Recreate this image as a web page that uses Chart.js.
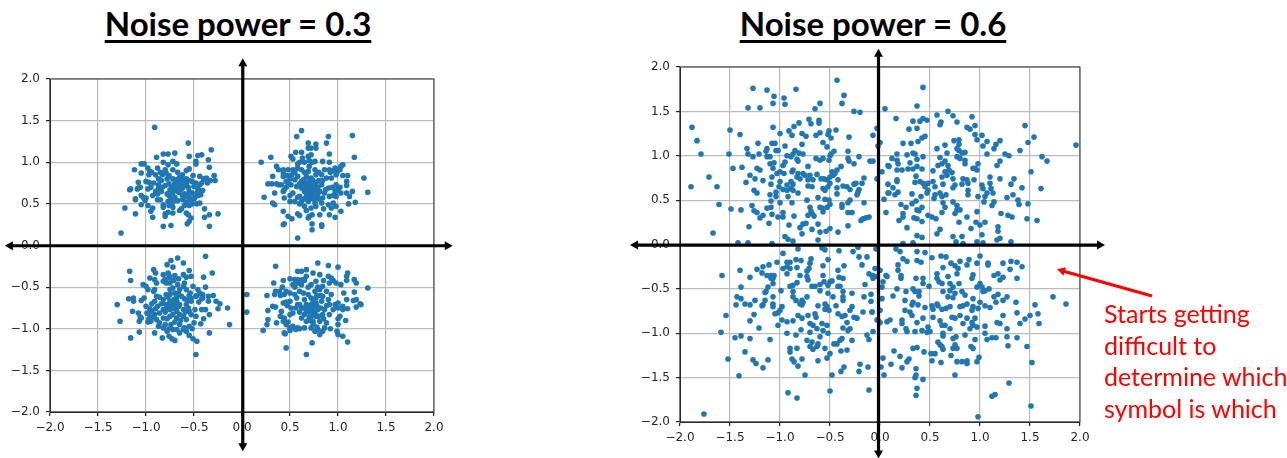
<!DOCTYPE html>
<html lang="en">
<head>
<meta charset="UTF-8">
<title>Noise power scatter</title>
<script src="https://cdn.jsdelivr.net/npm/chart.js"></script>
<style>
  html, body { margin: 0; padding: 0; background: #fff; overflow: hidden; }
  body { width: 1287px; height: 458px; position: relative; }
  canvas { position: absolute; top: 0; }
  .title { position: absolute; top: 1px; font: bold 33px Lato, sans-serif; color: #000; text-decoration: underline; text-decoration-thickness: 3px; text-underline-offset: 4px; text-decoration-skip-ink: none; white-space: nowrap; line-height: 44px; transform: translateX(-50%); }
  .note { position: absolute; left: 1104px; top: 298px; font: 25px/31.7px Lato, sans-serif; color: #f00; white-space: nowrap; }
</style>
</head>
<body>
<div class="title" id="title1" style="left:238px"></div>
<div class="title" id="title2" style="left:873px"></div>
<canvas id="lowNoise" width="470" height="458" style="left:0"></canvas>
<canvas id="highNoise" width="677" height="458" style="left:610px"></canvas>
<div class="note" id="note"></div>
<script>
const titles = ['Noise power = 0.3', 'Noise power = 0.6'];
const noteLines = ['Starts getting', 'difficult to', 'determine which', 'symbol is which'];
const tickValues = [-2, -1.5, -1, -0.5, 0, 0.5, 1, 1.5, 2];

// noise power 0.3, one list per symbol
const lowTopLeft = [[-0.91,1.42],[-0.56,1.23],[-0.32,1.15],[-0.89,1.06],[-0.82,1.10],[-0.77,1.10],[-0.70,1.11],[-0.55,1.07],[-0.46,1.08],[-0.42,1.09],[-0.35,1.03],[-0.34,0.94],[-0.82,1.00],[-1.05,0.98],[-1.02,0.98],[-0.77,0.97],[-0.72,1.01],[-0.68,0.98],[-0.48,1.01],[-0.48,0.98],[-0.55,0.92],[-1.12,0.91],[-1.05,0.87],[-0.98,0.93],[-0.96,0.89],[-0.97,0.85],[-0.88,0.93],[-0.80,0.91],[-0.90,0.85],[-0.83,0.85],[-0.72,0.91],[-0.67,0.88],[-0.62,0.85],[-0.58,0.90],[-0.51,0.84],[-0.44,0.83],[-0.40,0.80],[-0.37,0.81],[-0.29,0.84],[-0.28,0.78],[-0.33,0.78],[-1.08,0.76],[-1.00,0.77],[-0.97,0.76],[-1.17,0.67],[-1.09,0.68],[-0.98,0.68],[-0.87,0.80],[-0.84,0.78],[-0.87,0.73],[-0.83,0.70],[-0.87,0.68],[-0.84,0.65],[-0.78,0.80],[-0.72,0.80],[-0.68,0.79],[-0.65,0.82],[-0.62,0.79],[-0.60,0.76],[-0.66,0.76],[-0.70,0.74],[-0.64,0.72],[-0.68,0.70],[-0.73,0.70],[-0.75,0.67],[-0.62,0.69],[-0.58,0.74],[-0.55,0.78],[-0.52,0.77],[-0.48,0.75],[-0.44,0.73],[-0.46,0.68],[-0.41,0.66],[-0.43,0.61],[-0.46,0.60],[-0.49,0.58],[-0.52,0.63],[-0.55,0.65],[-0.50,0.56],[-0.44,0.51],[-1.11,0.55],[-1.05,0.60],[-1.03,0.58],[-1.00,0.57],[-1.01,0.54],[-1.05,0.49],[-0.98,0.48],[-0.93,0.60],[-0.88,0.55],[-0.85,0.55],[-0.76,0.60],[-0.74,0.56],[-0.77,0.53],[-0.72,0.52],[-0.70,0.58],[-0.67,0.54],[-0.62,0.55],[-0.60,0.58],[-0.58,0.52],[-0.55,0.48],[-0.52,0.50],[-0.47,0.50],[-0.39,0.44],[-0.39,0.34],[-0.34,0.37],[-0.25,0.38],[-0.34,0.23],[-0.57,0.26],[-0.55,0.29],[-0.53,0.33],[-0.74,0.24],[-0.82,0.23],[-0.80,0.35],[-0.80,0.38],[-0.77,0.40],[-0.72,0.39],[-0.65,0.42],[-0.63,0.44],[-0.58,0.39],[-0.56,0.37],[-0.82,0.49],[-0.82,0.46],[-0.93,0.45],[-0.95,0.41],[-0.93,0.34],[-1.11,0.38],[-1.22,0.45],[-1.26,0.15],[-1.16,0.68],[-1.11,0.56],[-1.08,0.69],[-0.78,0.62],[-0.72,0.63],[-0.66,0.64],[-0.60,0.62],[-0.56,0.70],[-0.80,0.72],[-0.76,0.74],[-0.90,0.65],[-0.88,0.62],[-0.95,0.70],[-0.92,0.75],[-0.69,0.68],[-0.71,0.66],[-0.64,0.67],[-0.60,0.72],[-0.66,0.80],[-0.58,0.80],[-0.76,0.84],[-0.79,0.87],[-0.85,0.88],[-0.94,0.88],[-1.06,0.70],[-0.62,0.60],[-0.58,0.60],[-0.55,0.58],[-0.55,0.55],[-0.76,0.48],[-0.72,0.46],[-0.60,0.48],[-0.47,0.63],[-0.44,0.66],[-0.50,0.71],[-0.42,0.75],[-0.36,0.75]];
const lowTopRight = [[0.62,1.38],[0.57,1.31],[1.15,1.32],[0.90,1.31],[0.88,1.23],[0.69,1.23],[0.77,1.22],[0.77,1.17],[0.69,1.17],[0.72,1.17],[0.56,1.12],[0.62,1.12],[0.91,1.10],[0.72,1.09],[0.69,1.07],[0.51,1.07],[0.53,1.04],[0.30,1.06],[1.17,1.06],[0.20,1.00],[0.63,1.05],[0.65,1.00],[0.76,1.01],[0.84,1.01],[0.91,1.00],[0.36,0.95],[0.38,0.91],[0.43,0.91],[0.43,0.87],[0.43,0.83],[0.48,0.91],[0.53,0.91],[0.52,0.85],[0.58,0.93],[0.62,0.91],[0.70,0.95],[0.76,0.91],[0.69,0.89],[0.86,0.91],[0.91,0.91],[0.97,0.93],[1.02,0.91],[1.05,0.97],[1.03,0.95],[1.10,0.84],[1.05,0.84],[0.32,0.83],[1.27,0.81],[1.31,0.64],[1.18,0.52],[1.11,0.50],[1.15,0.65],[1.09,0.72],[1.03,0.41],[0.97,0.34],[0.91,0.37],[0.81,0.37],[0.23,0.58],[0.34,0.63],[0.27,0.74],[0.31,0.74],[0.32,0.51],[0.34,0.49],[0.43,0.41],[0.43,0.25],[0.44,0.26],[0.48,0.35],[0.52,0.32],[0.58,0.38],[0.60,0.36],[0.58,0.09],[0.73,0.19],[0.73,0.26],[0.83,0.25],[0.83,0.23],[0.70,0.35],[0.69,0.33],[0.73,0.37],[0.58,0.83],[0.62,0.77],[0.67,0.83],[0.72,0.81],[0.77,0.85],[0.83,0.85],[0.88,0.81],[0.93,0.81],[0.98,0.85],[0.46,0.77],[0.41,0.73],[0.51,0.73],[0.57,0.71],[0.62,0.69],[0.67,0.73],[0.72,0.75],[0.77,0.75],[0.83,0.73],[0.90,0.69],[0.98,0.73],[0.65,0.65],[0.70,0.67],[0.76,0.67],[0.81,0.65],[0.86,0.63],[0.97,0.65],[1.03,0.63],[0.43,0.65],[0.53,0.63],[0.60,0.59],[0.67,0.59],[0.72,0.59],[0.77,0.57],[0.84,0.57],[0.91,0.59],[0.98,0.59],[1.09,0.63],[1.12,0.59],[0.44,0.57],[0.50,0.53],[0.55,0.53],[0.62,0.53],[0.69,0.53],[0.76,0.51],[0.83,0.51],[0.90,0.49],[0.95,0.51],[0.65,0.47],[0.72,0.45],[0.77,0.47],[0.93,0.45],[0.98,0.47],[0.64,0.79],[1.09,0.77],[0.44,0.67],[0.68,0.70],[0.70,0.72],[0.74,0.70],[0.66,0.68],[0.72,0.65],[0.74,0.62],[0.70,0.62],[0.68,0.64],[0.76,0.72],[0.79,0.70],[0.64,0.72],[0.60,0.74],[0.66,0.76],[0.70,0.78],[0.74,0.78],[0.80,0.78],[0.84,0.78],[0.79,0.62],[0.74,0.56],[0.70,0.56],[0.65,0.56],[0.80,0.56],[0.87,0.67],[0.94,0.70],[1.00,0.69],[1.02,0.70],[0.55,0.79],[0.50,0.80],[0.47,0.84],[0.55,0.88],[0.65,0.88],[0.80,0.88],[0.92,0.88],[0.95,0.90],[0.99,0.88],[0.73,1.00],[0.70,1.02],[0.60,1.00],[0.58,0.98],[0.48,0.75],[0.36,0.74],[0.38,0.73],[0.46,0.70],[0.50,0.60],[0.58,0.58],[0.60,0.50],[0.67,0.42],[0.85,0.44],[0.95,0.60],[1.00,0.66]];
const lowBottomLeft = [[-0.38,-0.13],[-0.67,-0.15],[-0.74,-0.18],[-0.78,-0.23],[-0.61,-0.21],[-0.72,-0.26],[-0.55,-0.30],[-1.17,-0.31],[-1.16,-0.42],[-0.92,-0.29],[-0.90,-0.33],[-0.31,-0.33],[-0.40,-0.38],[-0.53,-0.37],[-0.61,-0.35],[-0.58,-0.38],[-0.66,-0.40],[-0.96,-0.39],[-0.91,-0.41],[-0.89,-0.45],[-0.82,-0.35],[-0.80,-0.41],[-0.82,-0.43],[-0.77,-0.33],[-0.75,-0.39],[-0.79,-0.45],[-1.03,-0.47],[-1.00,-0.49],[-0.98,-0.53],[-0.91,-0.53],[-0.92,-0.55],[-0.67,-0.47],[-0.61,-0.49],[-0.51,-0.49],[-0.38,-0.50],[-0.46,-0.53],[-0.44,-0.57],[-0.41,-0.59],[-0.35,-0.61],[-0.30,-0.60],[-0.27,-0.67],[-0.23,-0.70],[-0.25,-0.76],[-0.15,-0.75],[-0.13,-0.95],[-0.34,-1.05],[-0.34,-0.83],[-0.40,-0.88],[-0.43,-0.94],[-0.47,-1.15],[-0.51,-1.12],[-0.48,-1.31],[-0.55,-1.08],[-0.70,-1.14],[-0.73,-1.12],[-0.76,-1.09],[-0.83,-1.11],[-0.91,-1.05],[-1.16,-1.11],[-1.07,-1.04],[-1.27,-0.91],[-1.30,-0.71],[-1.18,-0.64],[-1.13,-0.63],[-1.13,-0.67],[-1.05,-0.66],[-1.02,-0.63],[-1.14,-0.79],[-1.08,-0.81],[-1.06,-0.86],[-1.05,-0.87],[-1.07,-0.91],[-1.00,-0.73],[-0.99,-0.81],[-0.98,-0.92],[-0.89,-0.61],[-0.82,-0.65],[-0.75,-0.59],[-0.70,-0.57],[-0.63,-0.61],[-0.75,-0.67],[-0.68,-0.67],[-0.79,-0.71],[-0.72,-0.73],[-0.65,-0.71],[-0.58,-0.71],[-0.53,-0.63],[-0.53,-0.67],[-0.49,-0.77],[-0.55,-0.79],[-0.61,-0.77],[-0.68,-0.79],[-0.75,-0.77],[-0.82,-0.77],[-0.88,-0.73],[-0.91,-0.67],[-0.86,-0.81],[-0.91,-0.83],[-0.89,-0.89],[-0.82,-0.87],[-0.75,-0.85],[-0.68,-0.87],[-0.61,-0.85],[-0.58,-0.89],[-0.53,-0.83],[-0.86,-0.93],[-0.82,-0.99],[-0.74,-0.95],[-0.72,-1.01],[-0.65,-1.05],[-0.60,-0.99],[-0.55,-0.97],[-0.61,-1.01],[-0.65,-0.95],[-0.48,-0.85],[-0.38,-0.77],[-0.42,-0.77],[-0.48,-0.61],[-0.41,-0.63],[-0.35,-0.67],[-0.72,-0.51],[-0.65,-0.53],[-0.58,-0.53],[-0.75,-0.53],[-0.79,-0.59],[-0.94,-0.79],[-0.93,-0.86],[-0.70,-0.70],[-0.73,-0.68],[-0.76,-0.72],[-0.69,-0.75],[-0.66,-0.73],[-0.72,-0.76],[-0.78,-0.75],[-0.71,-0.65],[-0.77,-0.62],[-0.68,-0.62],[-0.66,-0.58],[-0.60,-0.64],[-0.80,-0.80],[-0.78,-0.88],[-0.72,-0.83],[-0.70,-0.92],[-0.65,-0.83],[-0.64,-0.90],[-0.59,-0.80],[-0.56,-0.75],[-0.57,-0.66],[-0.55,-0.60],[-0.84,-0.70],[-0.86,-0.62],[-0.90,-0.76],[-0.94,-0.70],[-0.80,-0.95],[-0.76,-1.00],[-0.68,-1.01],[-0.58,-1.03],[-0.52,-1.00],[-0.50,-0.93],[-0.47,-0.60],[-0.45,-0.68],[-0.42,-0.64],[-0.75,-0.45],[-0.71,-0.42],[-0.76,-0.36],[-0.70,-0.36],[-0.60,-0.45],[-0.54,-0.57],[-0.96,-0.76],[-0.97,-0.82],[-0.97,-0.88],[-0.95,-0.91],[-0.87,-0.97],[-0.78,-1.03]];
const lowBottomRight = [[0.05,-0.59],[0.05,-0.80],[0.35,-0.25],[0.67,-0.29],[0.79,-0.21],[0.90,-0.24],[1.00,-0.26],[1.10,-0.33],[1.09,-0.37],[1.09,-0.42],[1.17,-0.41],[1.19,-0.45],[1.31,-0.51],[1.17,-0.56],[1.06,-0.57],[1.09,-0.65],[1.16,-0.66],[1.19,-0.65],[1.23,-0.70],[1.24,-0.71],[1.19,-0.74],[1.10,-0.76],[1.00,-0.69],[1.05,-0.73],[1.00,-0.75],[1.05,-0.77],[1.02,-0.85],[1.08,-0.90],[1.00,-0.95],[0.99,-1.03],[1.00,-1.07],[1.05,-1.09],[1.10,-1.16],[0.73,-1.17],[0.67,-1.31],[0.46,-1.23],[0.45,-1.06],[0.44,-1.05],[0.22,-1.02],[0.26,-0.95],[0.27,-0.89],[0.27,-0.78],[0.26,-0.60],[0.33,-0.45],[0.35,-0.55],[0.34,-0.59],[0.32,-0.73],[0.35,-0.74],[0.43,-0.42],[0.50,-0.40],[0.55,-0.41],[0.58,-0.31],[0.62,-0.31],[0.63,-0.41],[0.46,-0.55],[0.44,-0.59],[0.50,-0.57],[0.55,-0.59],[0.60,-0.55],[0.64,-0.57],[0.69,-0.59],[0.76,-0.55],[0.81,-0.53],[0.84,-0.49],[0.72,-0.47],[0.77,-0.43],[0.62,-0.47],[0.53,-0.47],[0.58,-0.41],[0.67,-0.37],[0.74,-0.33],[0.81,-0.35],[0.90,-0.37],[0.93,-0.39],[0.91,-0.45],[0.98,-0.45],[1.03,-0.47],[0.93,-0.59],[0.84,-0.61],[0.77,-0.63],[0.72,-0.63],[0.65,-0.65],[0.57,-0.63],[0.50,-0.67],[0.43,-0.69],[0.41,-0.79],[0.51,-0.75],[0.50,-0.83],[0.44,-0.87],[0.53,-0.81],[0.58,-0.71],[0.62,-0.75],[0.67,-0.71],[0.72,-0.71],[0.77,-0.69],[0.83,-0.67],[0.69,-0.77],[0.74,-0.79],[0.79,-0.77],[0.86,-0.77],[0.65,-0.83],[0.72,-0.85],[0.77,-0.85],[0.84,-0.83],[0.91,-0.83],[0.95,-0.77],[0.91,-0.71],[0.97,-0.71],[0.62,-0.87],[0.67,-0.91],[0.74,-0.91],[0.81,-0.91],[0.88,-0.93],[0.53,-0.97],[0.58,-0.99],[0.65,-0.99],[0.72,-0.99],[0.79,-1.01],[0.86,-0.99],[0.76,-1.03],[0.81,-1.07],[0.36,-0.93],[0.43,-0.91],[0.46,-0.95],[0.50,-0.99],[0.70,-0.80],[0.72,-0.78],[0.74,-0.74],[0.70,-0.74],[0.76,-0.82],[0.79,-0.85],[0.78,-0.72],[0.70,-0.86],[0.67,-0.78],[0.64,-0.75],[0.60,-0.71],[0.74,-0.66],[0.78,-0.60],[0.82,-0.60],[0.80,-0.85],[0.85,-0.88],[0.74,-0.94],[0.70,-0.90],[0.60,-0.80],[0.56,-0.75],[0.47,-0.72],[0.46,-0.68],[0.40,-0.60],[0.39,-0.55],[0.42,-0.50],[0.55,-0.50],[0.58,-0.45],[0.65,-0.42],[0.69,-0.50],[0.79,-0.50],[0.85,-0.42],[0.95,-0.42],[0.88,-0.55],[0.90,-0.65],[0.82,-0.75],[0.88,-0.72],[0.78,-0.98],[0.84,-1.03],[0.60,-1.00],[0.56,-1.01],[0.50,-1.02],[0.48,-0.92],[0.40,-0.85],[0.92,-1.00],[1.00,-0.88]];

// noise power 0.6
const highTopLeft = [[-0.43,1.85],[-0.36,1.68],[-0.38,1.59],[-0.84,1.75],[-1.27,1.76],[-1.13,1.74],[-1.06,1.67],[-0.96,1.65],[-0.95,1.58],[-1.07,1.59],[-1.32,1.54],[-1.20,1.54],[-0.65,1.53],[-0.60,1.59],[-0.26,1.50],[-0.20,1.49],[-0.71,1.41],[-0.61,1.40],[-0.61,1.37],[-0.69,1.36],[-0.81,1.37],[-0.86,1.33],[-0.91,1.28],[-1.07,1.32],[-1.50,1.29],[-1.88,1.32],[-1.83,1.17],[-1.79,1.02],[-1.40,1.24],[-1.22,1.14],[-1.00,1.25],[-0.88,1.23],[-0.78,1.25],[-0.74,1.22],[-0.64,1.23],[-0.60,1.26],[-0.51,1.28],[-0.52,1.24],[-0.49,1.20],[-0.44,1.29],[-0.31,1.21],[-0.07,1.23],[-0.03,1.31],[-0.02,1.11],[-0.78,1.13],[-0.57,1.15],[-0.53,1.10],[-0.46,1.05],[-0.95,1.11],[-1.08,1.14],[-1.05,1.14],[-1.13,1.08],[-1.14,1.05],[-1.04,1.06],[-1.02,1.06],[-1.33,1.08],[-1.51,1.02],[-1.32,1.02],[-1.27,0.99],[-1.21,1.02],[-1.13,0.99],[-1.10,0.99],[-0.87,1.02],[-0.85,1.06],[-0.89,0.99],[-0.81,1.03],[-0.77,1.02],[-0.93,1.00],[-0.32,1.05],[-0.32,0.97],[-0.31,0.94],[-0.26,0.91],[-0.21,0.99],[-0.10,0.94],[-0.07,0.94],[-0.50,1.00],[-0.49,1.02],[-0.64,0.97],[-0.60,0.95],[-0.57,0.97],[-0.51,0.95],[-1.10,0.91],[-1.06,0.92],[-1.07,0.86],[-0.97,0.89],[-0.95,0.93],[-0.83,0.96],[-0.82,0.94],[-0.72,0.88],[-0.39,0.88],[-1.47,0.86],[-1.38,0.87],[-1.23,0.86],[-1.20,0.84],[-1.30,0.78],[-1.25,0.74],[-1.17,0.72],[-1.34,0.70],[-1.71,0.76],[-1.89,0.65],[-1.63,0.65],[-1.61,0.45],[-1.49,0.40],[-1.39,0.39],[-1.67,0.13],[-1.31,0.20],[-1.28,0.44],[-1.26,0.38],[-1.23,0.36],[-1.26,0.61],[-1.23,0.58],[-1.20,0.30],[-1.17,0.33],[-1.13,0.41],[-1.09,0.42],[-1.08,0.34],[-1.11,0.24],[-1.02,0.31],[-0.97,0.31],[-0.97,0.36],[-1.09,0.68],[-1.10,0.56],[-1.09,0.49],[-1.04,0.59],[-1.04,0.54],[-1.00,0.47],[-1.00,0.71],[-1.01,0.65],[-1.08,0.76],[-1.03,0.80],[-1.00,0.82],[-0.96,0.80],[-0.97,0.62],[-0.93,0.61],[-0.89,0.63],[-0.87,0.61],[-0.93,0.67],[-0.89,0.71],[-0.87,0.68],[-0.88,0.82],[-0.87,0.84],[-0.82,0.80],[-0.77,0.80],[-0.83,0.76],[-0.80,0.74],[-0.75,0.78],[-0.70,0.78],[-0.72,0.73],[-0.68,0.65],[-0.72,0.66],[-0.67,0.73],[-0.63,0.79],[-0.59,0.74],[-0.56,0.74],[-0.53,0.73],[-0.50,0.76],[-0.48,0.82],[-0.45,0.80],[-0.43,0.84],[-0.47,0.78],[-0.42,0.73],[-0.50,0.69],[-0.52,0.65],[-0.57,0.63],[-0.55,0.61],[-0.43,0.64],[-0.43,0.57],[-0.37,0.66],[-0.33,0.65],[-0.30,0.62],[-0.26,0.68],[-0.24,0.69],[-0.18,0.69],[-0.16,0.75],[-0.21,0.62],[-0.22,0.59],[-0.23,0.56],[-0.82,0.58],[-0.88,0.47],[-0.92,0.54],[-0.73,0.50],[-0.62,0.53],[-0.55,0.51],[-0.51,0.50],[-0.50,0.45],[-0.53,0.42],[-0.70,0.42],[-0.69,0.37],[-0.58,0.41],[-0.60,0.42],[-0.57,0.37],[-0.72,0.33],[-0.68,0.35],[-0.66,0.32],[-0.86,0.32],[-0.91,0.22],[-0.77,0.23],[-0.74,0.24],[-0.80,0.19],[-0.78,0.12],[-0.68,0.17],[-0.62,0.23],[-0.60,0.14],[-0.54,0.15],[-0.50,0.18],[-0.42,0.14],[-0.32,0.21],[-0.38,0.45],[-0.38,0.42],[-0.32,0.47],[-0.30,0.50],[-0.32,0.36],[-0.28,0.36],[-0.16,0.47],[-0.19,0.27],[-0.17,0.29],[-0.14,0.30],[-0.11,0.31],[-0.03,0.74],[-0.95,0.09],[-0.92,0.06],[-0.87,0.04],[-1.42,0.02],[-1.32,0.02],[-1.08,0.01],[-0.62,0.05]];
const highTopRight = [[0.43,1.77],[0.05,1.53],[0.37,1.56],[0.16,1.42],[0.33,1.39],[0.40,1.39],[0.43,1.42],[0.47,1.40],[0.29,1.30],[0.37,1.31],[0.57,1.46],[0.68,1.50],[0.73,1.45],[0.61,1.38],[0.60,1.35],[0.77,1.38],[0.92,1.44],[0.95,1.34],[0.87,1.32],[0.90,1.30],[1.45,1.34],[0.95,1.24],[1.02,1.23],[0.97,1.18],[1.07,1.16],[1.03,1.11],[1.20,1.17],[1.16,1.13],[1.14,1.08],[1.48,1.15],[1.54,1.21],[1.96,1.12],[1.40,1.06],[1.07,1.02],[1.25,1.02],[1.29,1.00],[1.62,0.99],[1.67,0.94],[0.00,1.15],[0.23,1.14],[0.31,1.14],[0.38,1.16],[0.42,1.20],[0.45,1.22],[0.57,1.08],[0.65,1.12],[0.74,1.17],[0.79,1.18],[0.79,1.13],[0.77,1.08],[0.79,1.06],[0.67,1.03],[0.60,0.98],[0.85,1.04],[0.82,1.03],[0.77,0.99],[0.80,0.97],[0.85,0.95],[0.85,0.91],[0.98,0.91],[0.95,0.86],[0.93,0.86],[0.97,0.84],[1.20,0.94],[1.17,0.89],[1.51,0.82],[0.12,0.97],[0.17,1.02],[0.17,0.95],[0.18,0.91],[0.27,1.01],[0.33,1.03],[0.35,1.02],[0.43,0.99],[0.37,0.96],[0.30,0.92],[0.09,0.88],[0.17,0.84],[0.22,0.84],[0.28,0.85],[0.33,0.85],[0.37,0.88],[0.42,0.85],[0.02,0.82],[0.53,0.83],[0.58,0.89],[0.62,0.91],[0.65,0.94],[0.68,0.89],[0.69,0.84],[0.65,0.82],[0.62,0.76],[0.67,0.78],[0.72,0.81],[0.73,0.74],[0.83,0.74],[0.87,0.73],[0.88,0.69],[0.94,0.73],[0.82,0.68],[0.75,0.67],[0.73,0.64],[0.36,0.77],[0.17,0.73],[0.17,0.71],[0.08,0.68],[0.35,0.70],[0.40,0.71],[0.43,0.69],[0.48,0.69],[0.53,0.71],[0.55,0.65],[0.63,0.68],[0.45,0.65],[0.48,0.61],[0.47,0.58],[0.13,0.64],[0.18,0.59],[0.08,0.58],[0.15,0.56],[0.32,0.57],[0.04,0.51],[0.60,0.58],[0.55,0.56],[0.54,0.52],[0.62,0.54],[0.66,0.56],[0.88,0.61],[0.88,0.56],[1.02,0.67],[1.03,0.63],[0.98,0.54],[1.10,0.76],[1.10,0.69],[1.11,0.63],[1.13,0.58],[1.07,0.58],[1.05,0.54],[1.20,0.74],[1.31,0.68],[1.34,0.74],[1.42,0.64],[1.61,0.63],[1.33,0.56],[1.27,0.53],[1.38,0.50],[1.39,0.45],[1.48,0.46],[1.14,0.48],[1.04,0.48],[1.12,0.44],[0.73,0.48],[0.77,0.44],[0.77,0.39],[0.75,0.35],[0.80,0.39],[0.65,0.42],[0.63,0.47],[0.36,0.49],[0.32,0.46],[0.21,0.45],[0.26,0.42],[0.41,0.54],[0.37,0.39],[0.42,0.42],[0.39,0.38],[0.62,0.36],[0.06,0.36],[0.23,0.35],[0.23,0.31],[0.19,0.27],[0.34,0.30],[0.37,0.29],[0.42,0.26],[0.48,0.33],[0.52,0.31],[0.56,0.29],[0.97,0.37],[0.87,0.31],[1.21,0.35],[1.28,0.33],[1.32,0.31],[1.47,0.29],[1.57,0.27],[0.79,0.25],[1.05,0.25],[0.96,0.25],[1.00,0.22],[0.27,0.19],[0.60,0.17],[0.57,0.12],[0.91,0.18],[1.18,0.20],[1.18,0.15],[1.02,0.11],[0.73,0.09],[0.82,0.09],[0.37,0.10],[0.42,0.08],[0.97,0.03],[0.76,0.03],[0.83,0.01],[1.03,0.02],[1.17,0.05],[1.20,0.07],[1.31,0.03],[0.23,0.01],[0.33,0.02],[0.08,0.89],[0.09,0.58]];
const highBottomLeft = [[-0.82,-0.05],[-0.41,-0.07],[-0.58,-0.04],[-0.55,-0.06],[-0.27,-0.08],[-0.22,-0.03],[-0.21,-0.14],[-0.13,-0.14],[-0.04,-0.05],[-0.97,-0.10],[-1.58,-0.35],[-1.40,-0.29],[-1.30,-0.37],[-1.23,-0.28],[-1.17,-0.25],[-1.18,-0.32],[-1.11,-0.23],[-1.03,-0.20],[-0.93,-0.20],[-0.90,-0.20],[-0.84,-0.17],[-0.79,-0.18],[-0.69,-0.16],[-0.70,-0.21],[-0.73,-0.30],[-0.71,-0.27],[-0.83,-0.26],[-0.90,-0.27],[-0.97,-0.27],[-0.93,-0.25],[-0.93,-0.33],[-0.52,-0.17],[-0.57,-0.24],[-0.57,-0.35],[-0.36,-0.24],[-0.42,-0.29],[-0.41,-0.37],[-0.37,-0.38],[-1.13,-0.35],[-1.09,-0.35],[-1.06,-0.35],[-1.07,-0.38],[-1.09,-0.38],[-0.80,-0.35],[-0.73,-0.36],[-0.72,-0.40],[-0.83,-0.43],[-0.90,-0.47],[-0.87,-0.46],[-1.07,-0.44],[-1.12,-0.48],[-1.14,-0.53],[-1.15,-0.54],[-1.39,-0.48],[-1.43,-0.59],[-1.39,-0.61],[-1.35,-0.67],[-1.44,-0.68],[-1.25,-0.63],[-1.30,-0.68],[-1.15,-0.63],[-1.17,-0.68],[-1.18,-0.69],[-1.07,-0.59],[-1.07,-0.67],[-1.07,-0.70],[-1.05,-0.78],[-0.99,-0.52],[-0.87,-0.53],[-0.87,-0.59],[-0.84,-0.63],[-0.68,-0.47],[-0.65,-0.47],[-0.60,-0.45],[-0.56,-0.42],[-0.50,-0.42],[-0.52,-0.46],[-0.48,-0.41],[-0.60,-0.52],[-0.52,-0.55],[-0.47,-0.59],[-0.73,-0.59],[-0.78,-0.63],[-0.80,-0.67],[-0.78,-0.68],[-0.77,-0.65],[-0.62,-0.69],[-0.55,-0.67],[-0.53,-0.70],[-0.55,-0.73],[-0.51,-0.74],[-0.44,-0.69],[-0.37,-0.53],[-0.37,-0.59],[-0.37,-0.63],[-0.28,-0.55],[-0.40,-0.47],[-0.42,-0.47],[-0.16,-0.59],[-0.09,-0.56],[-0.09,-0.64],[-0.15,-0.45],[-0.11,-0.33],[-0.07,-0.35],[-0.03,-0.36],[-0.05,-0.27],[-0.08,-0.35],[-0.18,-0.23],[-0.07,-0.38],[-0.28,-0.70],[-0.30,-0.74],[-0.17,-0.76],[-0.08,-0.76],[-0.98,-0.70],[-1.00,-0.74],[-1.02,-0.77],[-1.26,-0.79],[-1.30,-0.86],[-1.21,-0.94],[-1.54,-0.80],[-1.59,-0.99],[-1.45,-1.05],[-1.39,-1.03],[-1.30,-1.06],[-1.10,-1.07],[-1.35,-1.21],[-1.52,-1.29],[-1.41,-1.48],[-1.27,-1.30],[-1.24,-1.34],[-1.12,-1.30],[-1.17,-1.39],[-1.76,-1.91],[-0.92,-1.67],[-0.83,-1.73],[-0.50,-1.65],[-0.11,-1.64],[-0.75,-1.47],[-0.48,-1.47],[-0.39,-1.43],[-0.36,-1.38],[-0.21,-1.43],[-0.20,-1.35],[-0.12,-1.38],[-0.62,-1.31],[-0.53,-1.28],[-0.50,-1.23],[-0.39,-1.20],[-0.33,-1.19],[-0.90,-1.17],[-0.90,-1.21],[-0.88,-1.29],[-0.86,-1.32],[-0.82,-1.37],[-0.78,-1.29],[-0.83,-1.17],[-0.93,-1.00],[-0.84,-1.02],[-0.79,-0.96],[-1.02,-0.91],[-0.98,-0.85],[-0.93,-0.87],[-0.87,-0.86],[-0.82,-0.80],[-0.78,-0.83],[-0.72,-0.80],[-0.65,-0.78],[-0.64,-0.82],[-0.70,-0.89],[-0.67,-0.91],[-0.63,-0.95],[-0.58,-0.89],[-0.57,-0.97],[-0.53,-0.91],[-0.52,-1.00],[-0.60,-1.04],[-0.70,-0.99],[-0.73,-1.08],[-0.68,-1.10],[-0.70,-1.15],[-0.67,-1.18],[-0.63,-1.15],[-0.62,-1.12],[-0.55,-1.17],[-0.46,-1.12],[-0.40,-1.08],[-0.38,-1.06],[-0.28,-1.08],[-0.43,-1.12],[-0.42,-0.78],[-0.38,-0.81],[-0.35,-0.80],[-0.33,-0.88],[-0.37,-0.94],[-0.32,-0.97],[-0.30,-0.95],[-0.26,-0.82],[-0.23,-0.83],[-0.13,-1.02],[-0.11,-1.07],[-0.07,-0.98],[-0.02,-0.85],[-0.03,-0.85],[-0.08,-0.76]];
const highBottomRight = [[0.03,-0.42],[0.02,-0.48],[0.07,-0.36],[0.00,-0.74],[0.02,-0.61],[0.01,-1.38],[0.04,-1.47],[0.03,-1.28],[0.07,-0.87],[0.00,-0.88],[0.16,-0.05],[0.20,-0.08],[0.37,-0.08],[0.45,-0.09],[0.52,-0.15],[0.61,-0.13],[0.66,-0.14],[0.23,-0.16],[0.27,-0.19],[0.18,-0.23],[0.37,-0.18],[0.41,-0.20],[1.00,-0.13],[0.89,-0.17],[0.80,-0.19],[0.71,-0.21],[0.63,-0.26],[0.75,-0.24],[0.78,-0.27],[0.87,-0.23],[0.97,-0.21],[1.08,-0.21],[1.08,-0.23],[1.23,-0.21],[1.31,-0.19],[1.37,-0.20],[1.42,-0.25],[1.30,-0.28],[1.18,-0.33],[1.14,-0.35],[1.23,-0.37],[1.20,-0.40],[1.37,-0.38],[0.93,-0.34],[0.92,-0.38],[0.77,-0.33],[0.68,-0.36],[0.59,-0.42],[0.57,-0.33],[0.57,-0.38],[0.62,-0.44],[0.49,-0.47],[0.36,-0.38],[0.43,-0.38],[0.43,-0.44],[0.21,-0.35],[0.21,-0.38],[0.18,-0.29],[0.06,-0.35],[0.00,-0.29],[0.17,-0.50],[0.13,-0.58],[0.26,-0.53],[0.33,-0.50],[0.35,-0.53],[0.39,-0.53],[0.39,-0.58],[0.70,-0.44],[0.73,-0.48],[0.70,-0.52],[0.63,-0.53],[0.75,-0.55],[0.68,-0.59],[0.73,-0.60],[0.85,-0.57],[0.82,-0.53],[0.79,-0.44],[0.93,-0.61],[0.97,-0.48],[1.02,-0.48],[1.03,-0.53],[1.05,-0.52],[1.09,-0.50],[1.00,-0.44],[1.18,-0.56],[1.14,-0.59],[1.16,-0.65],[1.27,-0.59],[1.23,-0.63],[1.36,-0.65],[1.73,-0.59],[1.86,-0.67],[1.55,-0.68],[1.58,-0.78],[1.59,-0.89],[1.50,-0.80],[1.45,-0.84],[1.40,-0.89],[1.37,-0.77],[1.23,-0.80],[1.17,-0.88],[1.20,-0.89],[1.27,-0.95],[1.37,-1.05],[1.05,-0.92],[1.05,-1.00],[1.07,-1.07],[1.12,-1.05],[1.16,-1.05],[1.27,-1.04],[1.28,-1.14],[1.47,-1.15],[1.52,-1.33],[1.29,-1.56],[1.15,-1.69],[1.12,-1.71],[1.51,-1.82],[0.98,-1.94],[0.75,-1.47],[0.36,-1.40],[0.36,-1.47],[0.35,-1.50],[0.43,-1.52],[0.37,-1.62],[0.36,-1.70],[0.11,-1.35],[0.22,-1.39],[0.27,-1.32],[0.29,-1.29],[0.14,-1.20],[0.20,-1.26],[0.33,-1.17],[0.37,-1.16],[0.44,-1.21],[0.51,-1.23],[0.55,-1.23],[0.63,-1.18],[0.52,-1.31],[0.61,-1.33],[0.71,-1.25],[0.77,-1.32],[0.82,-1.32],[0.87,-1.31],[0.87,-1.34],[0.97,-1.32],[0.99,-1.27],[0.91,-1.15],[0.93,-1.17],[0.95,-1.07],[0.58,-1.10],[0.60,-1.13],[0.62,-1.15],[0.75,-1.13],[0.77,-1.17],[0.73,-1.17],[0.35,-0.98],[0.27,-0.98],[0.26,-0.95],[0.22,-0.89],[0.22,-0.85],[0.15,-0.97],[0.10,-0.85],[0.37,-0.88],[0.43,-0.83],[0.42,-0.97],[0.48,-0.93],[0.50,-0.98],[0.47,-0.99],[0.60,-0.86],[0.62,-0.91],[0.65,-0.91],[0.70,-0.95],[0.63,-1.00],[0.63,-1.03],[0.73,-1.06],[0.76,-1.04],[0.85,-1.02],[0.90,-0.95],[0.93,-0.91],[0.97,-0.93],[0.83,-0.89],[0.87,-0.83],[0.95,-0.83],[0.92,-0.88],[0.25,-0.74],[0.30,-0.76],[0.32,-0.80],[0.33,-0.65],[0.32,-0.68],[0.38,-0.68],[0.45,-0.71],[0.52,-0.69],[0.53,-0.73],[0.53,-0.82],[0.57,-0.67],[0.58,-0.69],[0.62,-0.73],[0.66,-0.72],[0.70,-0.70],[0.80,-0.70],[0.83,-0.69],[0.87,-0.67],[0.92,-0.74],[0.93,-0.70],[0.98,-0.72],[1.00,-0.65],[1.05,-0.69],[1.10,-0.71],[0.72,-0.82],[0.75,-0.83],[0.80,-0.80],[0.25,-0.63]];

// black axis lines and the red pointer, all in data units
const lowAxisH = [-2.47, 2.195], lowAxisV = [2.25, -2.47], lowAxisAt = [0.008, -0.003];
const highAxisH = [-2.5, 2.25], highAxisV = [2.205, -2.41], highAxisAt = [-0.015, -0.007];
const pointerFrom = [2.72, -0.58], pointerTo = [1.77, -0.28];

function arrowHead(ctx, x, y, dx, dy, len, half) {
  ctx.beginPath();
  ctx.moveTo(x, y);
  ctx.lineTo(x - dx * len - dy * half, y - dy * len + dx * half);
  ctx.lineTo(x - dx * len + dy * half, y - dy * len - dx * half);
  ctx.closePath();
  ctx.fill();
}

function arrowLine(ctx, x1, y1, x2, y2, color, bothEnds) {
  const l = Math.hypot(x2 - x1, y2 - y1), dx = (x2 - x1) / l, dy = (y2 - y1) / l;
  ctx.strokeStyle = color;
  ctx.fillStyle = color;
  ctx.lineWidth = 3.2;
  ctx.beginPath();
  ctx.moveTo(bothEnds ? x1 + dx * 6 : x1, bothEnds ? y1 + dy * 6 : y1);
  ctx.lineTo(x2 - dx * 6, y2 - dy * 6);
  ctx.stroke();
  arrowHead(ctx, x2, y2, dx, dy, 8, 4.5);
  if (bothEnds) arrowHead(ctx, x1, y1, -dx, -dy, 8, 4.5);
}

const framePlugin = {
  id: 'frame',
  beforeDatasetsDraw(chart) {
    const a = chart.chartArea, ctx = chart.ctx;
    ctx.save();
    ctx.strokeStyle = '#333';
    ctx.lineWidth = 1;
    ctx.strokeRect(a.left, a.top, a.right - a.left, a.bottom - a.top);
    ctx.restore();
  }
};

const arrowsPlugin = {
  id: 'arrows',
  afterDraw(chart, args, opts) {
    const sx = chart.scales.x, sy = chart.scales.y, ctx = chart.ctx;
    ctx.save();
    arrowLine(ctx, sx.getPixelForValue(opts.h[0]), sy.getPixelForValue(opts.at[1]), sx.getPixelForValue(opts.h[1]), sy.getPixelForValue(opts.at[1]), '#000', true);
    arrowLine(ctx, sx.getPixelForValue(opts.at[0]), sy.getPixelForValue(opts.v[0]), sx.getPixelForValue(opts.at[0]), sy.getPixelForValue(opts.v[1]), '#000', true);
    if (opts.from) {
      arrowLine(ctx, sx.getPixelForValue(opts.from[0]), sy.getPixelForValue(opts.from[1]), sx.getPixelForValue(opts.to[0]), sy.getPixelForValue(opts.to[1]), '#f00', false);
    }
    ctx.restore();
  }
};

function axisOptions(size, isX) {
  return {
    type: 'linear',
    min: -2,
    max: 2,
    afterBuildTicks(scale) { scale.ticks = tickValues.map(v => ({ value: v })); },
    afterFit(scale) { if (isX) scale.height = size; else scale.width = size; },
    grid: { color: '#bcbcbc', lineWidth: 1.2, tickColor: '#222', tickLength: 4 },
    border: { color: '#222', width: 1 },
    ticks: {
      color: '#262626',
      padding: isX ? 5 : 6,
      maxRotation: 0,
      autoSkip: false,
      font: { family: '"DejaVu Sans"', size: 12 },
      callback: v => v.toFixed(1).replace('-', '\u2212')
    }
  };
}

function drawScatter(id, lists, pad, yWidth, xHeight, arrows) {
  return new Chart(document.getElementById(id), {
    type: 'scatter',
    data: {
      datasets: [{
        data: lists.flat().map(p => ({ x: p[0], y: p[1] })),
        backgroundColor: '#1f77b4',
        borderWidth: 0,
        pointRadius: 2.8,
        pointHoverRadius: 2.8
      }]
    },
    options: {
      responsive: false,
      animation: false,
      events: [],
      layout: { padding: pad },
      scales: { x: axisOptions(xHeight, true), y: axisOptions(yWidth, false) },
      plugins: { legend: { display: false }, tooltip: { enabled: false }, arrows: arrows }
    },
    plugins: [framePlugin, arrowsPlugin]
  });
}

document.getElementById('title1').textContent = titles[0];
document.getElementById('title2').textContent = titles[1];
document.getElementById('note').innerHTML = noteLines.join('<br>');

drawScatter('lowNoise', [lowTopLeft, lowTopRight, lowBottomLeft, lowBottomRight],
  { left: 0, right: 36, top: 79, bottom: 0 }, 50, 46,
  { h: lowAxisH, v: lowAxisV, at: lowAxisAt });
drawScatter('highNoise', [highTopLeft, highTopRight, highBottomLeft, highBottomRight],
  { left: 0, right: 207, top: 67, bottom: 0 }, 70, 36,
  { h: highAxisH, v: highAxisV, at: highAxisAt, from: pointerFrom, to: pointerTo });
</script>
</body>
</html>
